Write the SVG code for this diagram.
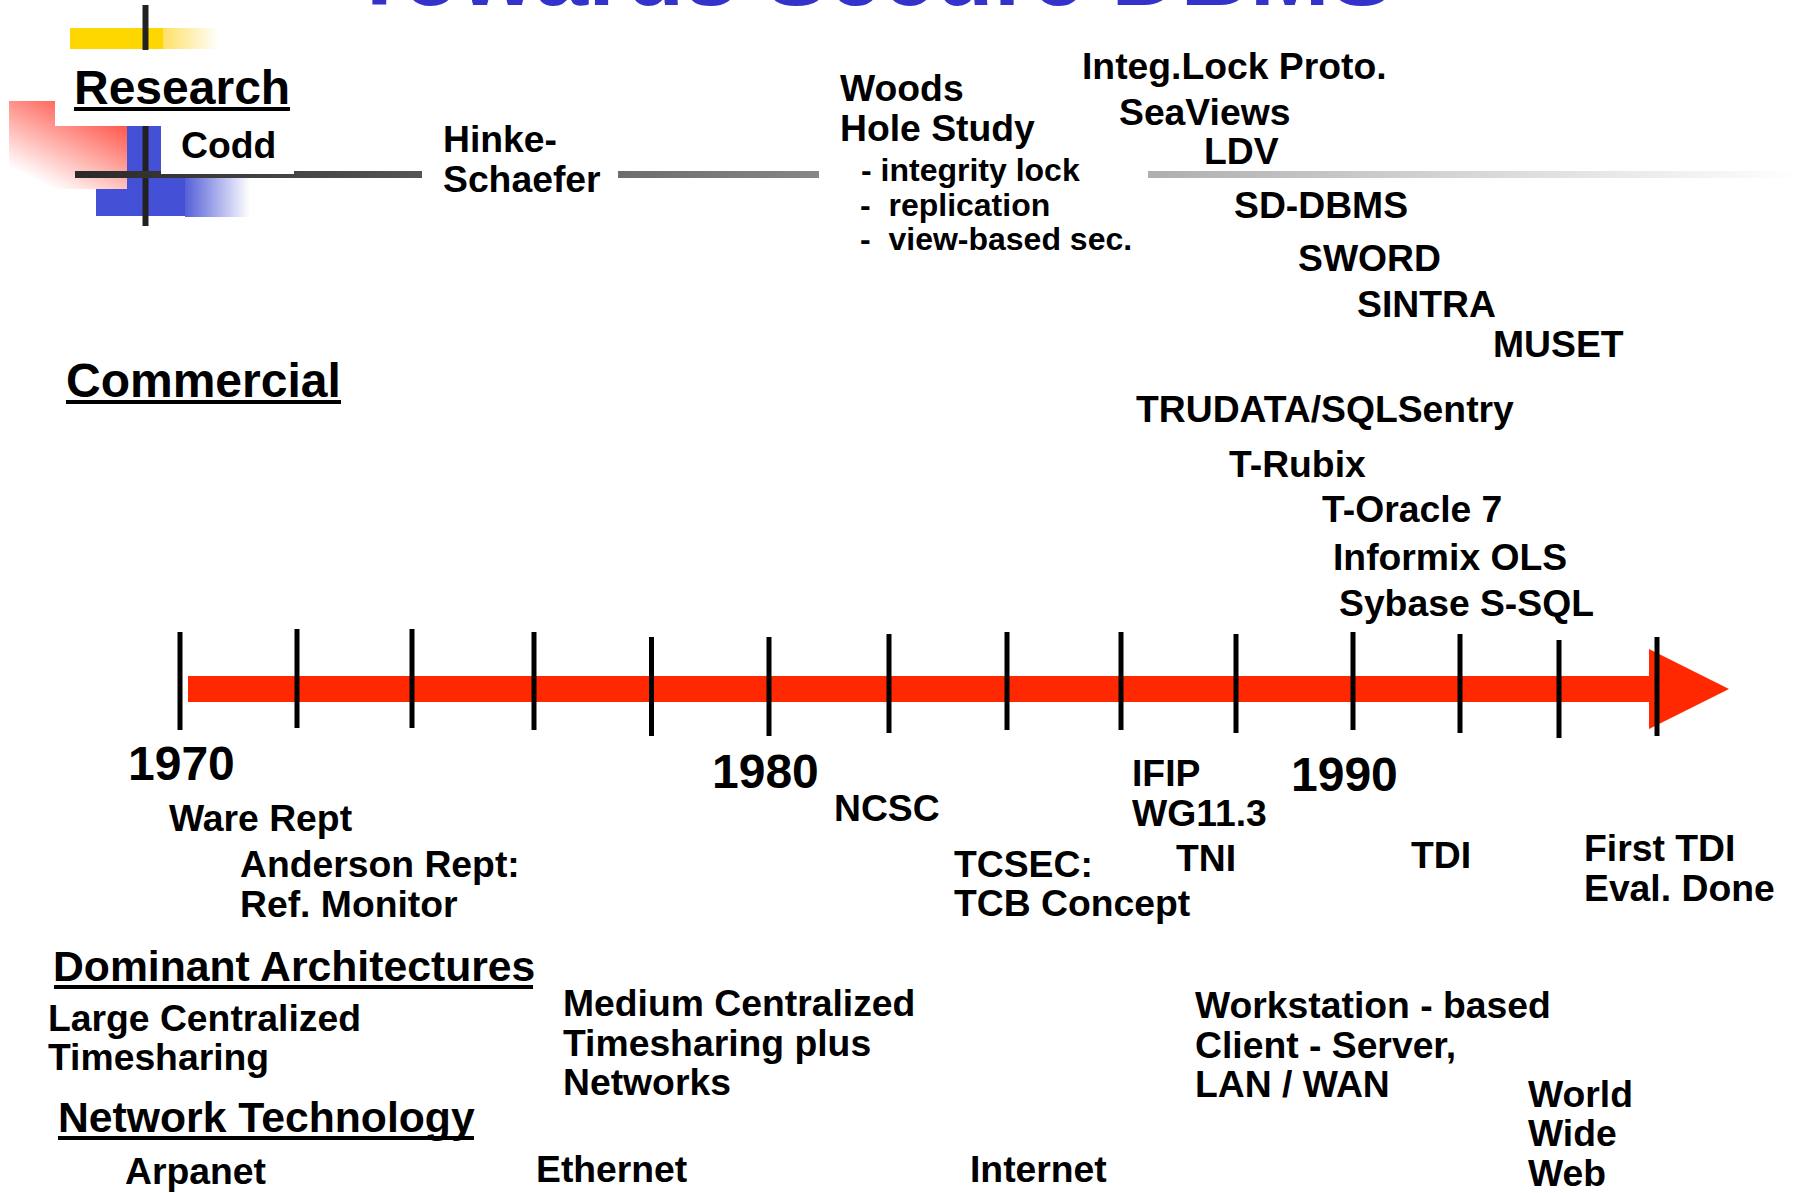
<svg xmlns="http://www.w3.org/2000/svg" width="1798" height="1193" viewBox="0 0 1798 1193">
<defs>
<style>
.t { font-family: "Liberation Sans", Arial, sans-serif; font-weight: bold; fill: #000; }
.b { font-size: 37.3px; }
.s { font-size: 32px; }
.h { font-size: 48px; }
.h2 { font-size: 42.7px; }
.yr { font-size: 48px; }
.ul { stroke: #000; stroke-width: 4; }
.tick { stroke: #000; stroke-width: 5; }
.cross { stroke: #222; stroke-width: 6; }
</style>
<linearGradient id="lineGrad" gradientUnits="userSpaceOnUse" x1="75" y1="0" x2="1798" y2="0">
<stop offset="0" stop-color="#2a2a2a"/>
<stop offset="1" stop-color="#ffffff"/>
</linearGradient>
<linearGradient id="yelGrad" x1="0" y1="0" x2="1" y2="0">
<stop offset="0" stop-color="#FFE066"/>
<stop offset="1" stop-color="#FFFFFF"/>
</linearGradient>
<linearGradient id="bluGrad" x1="0" y1="0" x2="1" y2="0">
<stop offset="0" stop-color="#5560D8"/>
<stop offset="1" stop-color="#FFFFFF"/>
</linearGradient>
<linearGradient id="redGrad" gradientUnits="userSpaceOnUse" x1="127" y1="101" x2="77" y2="201">
<stop offset="0" stop-color="#FF2E1F"/>
<stop offset="1" stop-color="#FFFFFF"/>
</linearGradient>
</defs>
<rect x="0" y="0" width="1798" height="1193" fill="#ffffff"/>

<g id="title">
<text class="t" x="350" y="5" font-size="96" style="fill:#3333CC">Towards Secure DBMS</text>
</g>

<g id="decoration">
<rect x="70" y="28" width="93" height="21" fill="#FFD700"/>
<rect x="163" y="28" width="56" height="21" fill="url(#yelGrad)"/>
<line class="cross" x1="145.5" y1="5" x2="145.5" y2="50"/>
<rect x="96" y="126" width="65" height="90" fill="#4450D6"/>
<rect x="161" y="178" width="24" height="38" fill="#4450D6"/>
<rect x="185" y="178" width="65" height="39" fill="url(#bluGrad)"/>
<polygon points="9,101 55,101 55,126 127,126 127,189 9,189" fill="url(#redGrad)"/>
<line class="cross" x1="145.5" y1="126" x2="145.5" y2="226"/>
</g>

<g id="connectors">
<rect x="75" y="171" width="86" height="7" fill="url(#lineGrad)"/>
<rect x="161" y="174" width="133" height="4" fill="url(#lineGrad)"/>
<rect x="294" y="171" width="128" height="7" fill="url(#lineGrad)"/>
<rect x="618" y="171" width="201" height="7" fill="url(#lineGrad)"/>
<rect x="1148" y="171" width="650" height="7" fill="url(#lineGrad)"/>
</g>

<g id="timeline">
<rect x="188" y="676" width="1462" height="26" fill="#FF2800"/>
<polygon points="1649,649 1729,689 1649,729" fill="#FF2800"/>
<line class="tick" x1="180" y1="632" x2="180" y2="730"/>
<line class="tick" x1="297" y1="629" x2="297" y2="728"/>
<line class="tick" x1="412" y1="629" x2="412" y2="728"/>
<line class="tick" x1="534" y1="632" x2="534" y2="730"/>
<line class="tick" x1="651.5" y1="637" x2="651.5" y2="736"/>
<line class="tick" x1="769" y1="637" x2="769" y2="736"/>
<line class="tick" x1="889" y1="634" x2="889" y2="733"/>
<line class="tick" x1="1007" y1="632" x2="1007" y2="730"/>
<line class="tick" x1="1121" y1="632" x2="1121" y2="730"/>
<line class="tick" x1="1236" y1="634" x2="1236" y2="733"/>
<line class="tick" x1="1353" y1="632" x2="1353" y2="730"/>
<line class="tick" x1="1460" y1="634" x2="1460" y2="733"/>
<line class="tick" x1="1559" y1="640" x2="1559" y2="738"/>
<line class="tick" x1="1657" y1="637" x2="1657" y2="736"/>
</g>

<g id="research">
<text class="t h" x="74" y="104">Research</text>
<line class="ul" x1="74" y1="109" x2="290" y2="109"/>
</g>
<g id="codd"><text class="t b" x="181" y="158">Codd</text></g>
<g id="hinke-schaefer">
<text class="t b" x="443" y="152">Hinke-</text>
<text class="t b" x="443" y="192">Schaefer</text>
</g>
<g id="woods-hole">
<text class="t b" x="840" y="101">Woods</text>
<text class="t b" x="840" y="141">Hole Study</text>
<text class="t s" x="861" y="181" xml:space="preserve">- integrity lock</text>
<text class="t s" x="860" y="216" xml:space="preserve">-  replication</text>
<text class="t s" x="860" y="250" xml:space="preserve">-  view-based sec.</text>
</g>
<g id="integ-lock"><text class="t b" x="1082" y="79">Integ.Lock Proto.</text></g>
<g id="seaviews"><text class="t b" x="1119" y="125">SeaViews</text></g>
<g id="ldv"><text class="t b" x="1204" y="164">LDV</text></g>
<g id="sd-dbms"><text class="t b" x="1234" y="218">SD-DBMS</text></g>
<g id="sword"><text class="t b" x="1298" y="271">SWORD</text></g>
<g id="sintra"><text class="t b" x="1357" y="317">SINTRA</text></g>
<g id="muset"><text class="t b" x="1493" y="357">MUSET</text></g>

<g id="commercial">
<text class="t h" x="66" y="397">Commercial</text>
<line class="ul" x1="66" y1="402" x2="341" y2="402"/>
</g>
<g id="trudata"><text class="t b" x="1136" y="422">TRUDATA/SQLSentry</text></g>
<g id="t-rubix"><text class="t b" x="1229" y="477">T-Rubix</text></g>
<g id="t-oracle"><text class="t b" x="1322" y="522">T-Oracle 7</text></g>
<g id="informix"><text class="t b" x="1333" y="570">Informix OLS</text></g>
<g id="sybase"><text class="t b" x="1339" y="616">Sybase S-SQL</text></g>

<g id="y1970"><text class="t yr" x="128" y="780">1970</text></g>
<g id="y1980"><text class="t yr" x="712" y="788">1980</text></g>
<g id="y1990"><text class="t yr" x="1291" y="791">1990</text></g>

<g id="ware"><text class="t b" x="169" y="831">Ware Rept</text></g>
<g id="anderson">
<text class="t b" x="240" y="877">Anderson Rept:</text>
<text class="t b" x="240" y="917">Ref. Monitor</text>
</g>
<g id="ncsc"><text class="t b" x="834" y="821">NCSC</text></g>
<g id="tcsec">
<text class="t b" x="954" y="877">TCSEC:</text>
<text class="t b" x="954" y="916">TCB Concept</text>
</g>
<g id="ifip">
<text class="t b" x="1132" y="786">IFIP</text>
<text class="t b" x="1132" y="826">WG11.3</text>
</g>
<g id="tni"><text class="t b" x="1176" y="871">TNI</text></g>
<g id="tdi"><text class="t b" x="1411" y="868">TDI</text></g>
<g id="first-tdi">
<text class="t b" x="1584" y="861">First TDI</text>
<text class="t b" x="1584" y="901">Eval. Done</text>
</g>

<g id="dominant">
<text class="t h2" x="53" y="981">Dominant Architectures</text>
<line class="ul" x1="54" y1="987" x2="533" y2="987"/>
</g>
<g id="large-central">
<text class="t b" x="48" y="1031">Large Centralized</text>
<text class="t b" x="48" y="1070">Timesharing</text>
</g>
<g id="medium-central">
<text class="t b" x="563" y="1016">Medium Centralized</text>
<text class="t b" x="563" y="1056">Timesharing plus</text>
<text class="t b" x="563" y="1095">Networks</text>
</g>
<g id="workstation">
<text class="t b" x="1195" y="1018">Workstation - based</text>
<text class="t b" x="1195" y="1058">Client - Server,</text>
<text class="t b" x="1195" y="1097">LAN / WAN</text>
</g>

<g id="network-tech">
<text class="t h2" x="58" y="1132">Network Technology</text>
<line class="ul" x1="58" y1="1138" x2="474" y2="1138"/>
</g>
<g id="arpanet"><text class="t b" x="125" y="1184">Arpanet</text></g>
<g id="ethernet"><text class="t b" x="536" y="1182">Ethernet</text></g>
<g id="internet"><text class="t b" x="970" y="1182">Internet</text></g>
<g id="www">
<text class="t b" x="1528" y="1107">World</text>
<text class="t b" x="1528" y="1146">Wide</text>
<text class="t b" x="1528" y="1186">Web</text>
</g>
</svg>
